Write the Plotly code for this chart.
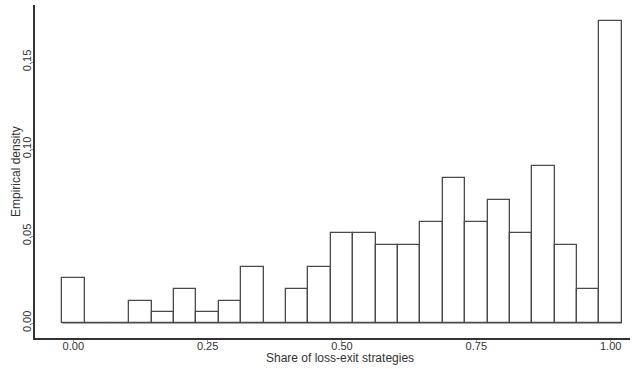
import plotly.graph_objects as go

bin_width = 1 / 24
bin_centers = [k / 24 for k in range(25)]
density = [0.0257, 0.0, 0.0, 0.0126, 0.0063, 0.0194, 0.0063, 0.0126, 0.0322, 0.0,
           0.0194, 0.0322, 0.0516, 0.0516, 0.0448, 0.0448, 0.0579, 0.0835, 0.0579,
           0.0707, 0.0516, 0.0904, 0.0448, 0.0194, 0.1737]
x_ticks = [0, 0.25, 0.5, 0.75, 1.0]
y_ticks = [0, 0.05, 0.10, 0.15]
x_title = "Share of loss-exit strategies"
y_title = "Empirical density"

font_family = "Liberation Sans, Arial, sans-serif"
W, H = 641, 369
ML, MR, MT, MB = 35, 11, 5, 31

fig = go.Figure()
fig.add_trace(go.Bar(
    x=bin_centers, y=density, width=[bin_width] * len(bin_centers),
    marker=dict(color="white", line=dict(color="#4a4a4a", width=1.3)),
    showlegend=False, hoverinfo="x+y",
))
# baseline across the bins (histogram outline bottom)
fig.add_trace(go.Scatter(
    x=[bin_centers[0] - bin_width / 2, bin_centers[-1] + bin_width / 2], y=[0, 0],
    mode="lines", line=dict(color="#4a4a4a", width=1.1), showlegend=False, hoverinfo="skip",
))

fig.update_layout(
    width=W, height=H,
    margin=dict(l=ML, r=MR, t=MT, b=MB, autoexpand=False),
    plot_bgcolor="white", paper_bgcolor="white",
    font=dict(family=font_family, size=11, color="#333333"),
    bargap=0,
)
fig.update_xaxes(
    range=[-0.0713, 1.036], tickvals=x_ticks, tickformat=".2f",
    showgrid=False, zeroline=False, showline=True, linecolor="#333333", linewidth=1.5,
    ticks="outside", ticklen=2, tickcolor="#999999", automargin=False,
    ticklabelstandoff=-5, tickfont=dict(size=11),
)
fig.update_yaxes(
    range=[-0.0086, 0.1828], tickvals=y_ticks, tickformat=".2f", tickangle=-90,
    showgrid=False, zeroline=False, showline=True, linecolor="#333333", linewidth=1.5,
    ticks="outside", ticklen=2, tickcolor="#999999", automargin=False,
    ticklabelstandoff=-4, tickfont=dict(size=11),
)
# axis titles placed in paper pixels
fig.add_annotation(
    text=x_title, xref="paper", yref="paper",
    x=(340 - ML) / (W - ML - MR), y=-(358 - (H - MB)) / (H - MT - MB),
    showarrow=False, font=dict(size=12), xanchor="center", yanchor="middle",
)
fig.add_annotation(
    text=y_title, xref="paper", yref="paper", textangle=-90,
    x=-(ML - 16) / (W - ML - MR), y=((H - MB) - 172) / (H - MT - MB),
    showarrow=False, font=dict(size=12), xanchor="center", yanchor="middle",
)

fig.write_html("out.html", config={"displayModeBar": False},
               post_script="document.body.style.margin='0';")
